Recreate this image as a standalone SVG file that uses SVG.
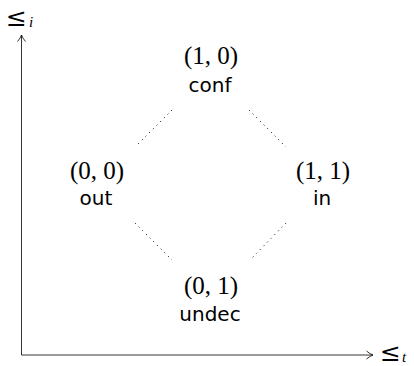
<svg xmlns="http://www.w3.org/2000/svg" width="414" height="366" viewBox="0 0 414 366">
<style>
.m{font-family:"Liberation Serif","DejaVu Serif",serif;font-size:25px;text-anchor:middle;fill:#000}
.s{font-family:"DejaVu Sans","Liberation Sans",sans-serif;font-size:20px;text-anchor:middle;fill:#000}
.le{font-family:"DejaVu Serif","Liberation Serif",serif;font-size:25px;fill:#000}
.sub{font-family:"Liberation Serif","DejaVu Serif",serif;font-size:15px;font-style:italic;fill:#000}
.dot{stroke:#000;stroke-width:1;stroke-dasharray:1 4.2;fill:none}
.ax{stroke:#000;stroke-width:0.8;fill:none}
</style>
<rect width="414" height="366" fill="#fff"/>
<g id="axes">
<path class="ax" d="M21.5,355 V35 M373,355 H21.5"/>
<path class="ax" d="M17.5,41.5 Q20.5,38 21.5,35 Q22.5,38 25.5,41.5"/>
<path class="ax" d="M366.5,351 Q370,354 373,355 Q370,356 366.5,359"/>
<text class="le" x="6" y="26">≤</text><text class="sub" x="29" y="27">i</text>
<text class="le" x="380" y="361">≤</text><text class="sub" x="402" y="362">t</text>
</g>
<g id="connectors">
<path class="dot" d="M172,110 L136,146"/>
<path class="dot" d="M249,110 L286,147"/>
<path class="dot" d="M135,223 L172,260"/>
<path class="dot" d="M286,223 L250,260"/>
</g>
<g id="conf"><text class="m" x="211" y="64">(1, 0)</text><text class="s" x="210" y="92">conf</text></g>
<g id="out"><text class="m" x="97" y="179">(0, 0)</text><text class="s" x="96" y="205">out</text></g>
<g id="in"><text class="m" x="323" y="179">(1, 1)</text><text class="s" x="322" y="205">in</text></g>
<g id="undec"><text class="m" x="211" y="294">(0, 1)</text><text class="s" x="210" y="321">undec</text></g>
</svg>
